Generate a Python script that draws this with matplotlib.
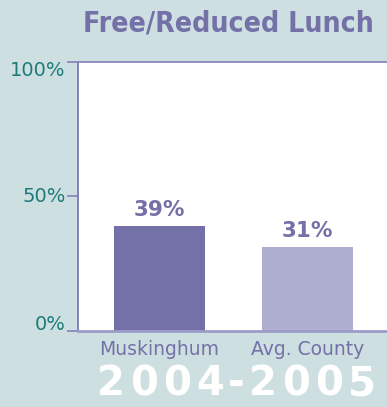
import matplotlib
matplotlib.use("Agg")
import matplotlib.pyplot as plt

categories = ["Muskinghum", "Avg. County"]
values = [39, 31]
value_labels = ["39%", "31%"]
yticks = [0, 50, 100]
ytick_labels = ["0%", "50%", "100%"]
title = "Free/Reduced Lunch"
period = "2004-2005"

bg = "#cddfe0"
dark = "#7470a8"
light = "#aeaed0"
teal = "#1e7b7b"

fig = plt.figure(figsize=(3.87, 4.07), dpi=100, facecolor=bg)
ax = fig.add_axes([78 / 387, 1 - 330.5 / 407, 1 - 78 / 387, (330.5 - 61.5) / 407])
ax.set_facecolor("white")

x = list(range(len(categories)))
ax.bar(x, values, width=0.615, color=[dark, light], zorder=2)
ax.set_xlim(-0.5507, 1.537)
ax.set_ylim(0, 100)

for xi, v, lab in zip(x, values, value_labels):
    ax.annotate(lab, (xi, v), xytext=(0, 10), textcoords="offset pixels",
                ha="center", va="baseline", color=dark, fontsize=15.5,
                fontweight="bold", family="DejaVu Sans")

ax.set_yticks(yticks)
ax.set_yticklabels(ytick_labels, color=teal, fontsize=14, family="DejaVu Sans")
# bottom label sits above its tick, top label hangs below its tick
for lab, va in zip(ax.get_yticklabels(), ["baseline", "center", "top"]):
    lab.set_va(va)
ax.tick_params(axis="y", length=8, width=1.3, color="#8a88bc", pad=1)
ax.set_xticks(x)
ax.set_xticklabels(categories, color=dark, fontsize=13.5, family="DejaVu Sans")
ax.tick_params(axis="x", length=0, pad=7)

ax.spines["right"].set_visible(False)
ax.spines["left"].set_color("#7b79b5")
ax.spines["left"].set_linewidth(1.3)
ax.spines["top"].set_color("#8a88bc")
ax.spines["top"].set_linewidth(1.3)
ax.spines["bottom"].set_color("#9d9cc9")
ax.spines["bottom"].set_linewidth(2)

fig.text(228 / 387, 1 - 24 / 407, title, ha="center", va="center", color=dark,
         fontsize=20.3, fontweight="bold", family="DejaVu Sans", fontstretch="condensed")

# spaced-out year range along the bottom
cx = 111.0
for i, ch in enumerate(period):
    fig.text(cx / 387, 1 - 384 / 407, ch, ha="center", va="center", color="white",
             fontsize=29, fontweight="bold", family="DejaVu Sans")
    if i + 1 < len(period):
        cx += 26.5 if "-" in (ch, period[i + 1]) else 33.0

fig.savefig("out.png", dpi=100, facecolor=bg)
